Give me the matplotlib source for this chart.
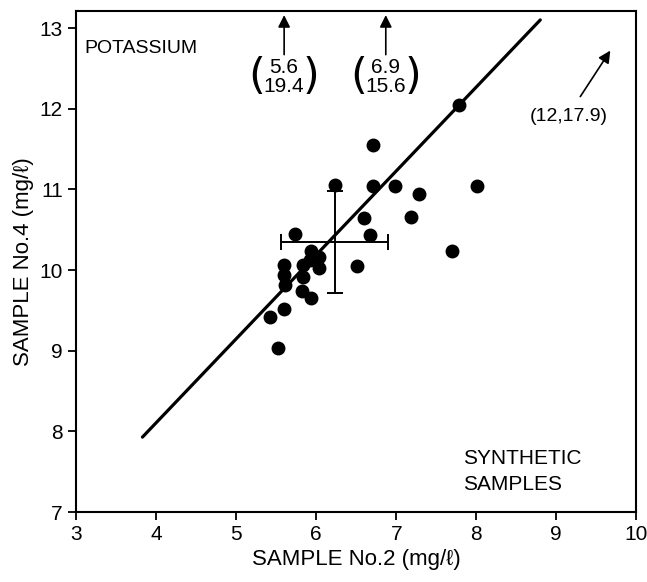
import matplotlib
matplotlib.use("Agg")
import matplotlib.pyplot as plt

plt.rcParams['font.family'] = ['Liberation Sans', 'DejaVu Sans']

# Data (sample no.2 vs sample no.4, potassium)
sample2 = [7.79, 6.71, 6.23, 6.71, 6.98, 7.29, 8.01, 6.60, 7.18, 5.73,
           6.67, 7.70, 6.51, 5.60, 5.60, 5.61, 5.83, 5.83, 5.82, 5.94,
           5.60, 5.42, 5.52, 5.94, 6.03, 5.92, 6.03]
sample4 = [12.05, 11.55, 11.06, 11.04, 11.04, 10.94, 11.04, 10.65, 10.66, 10.45,
           10.44, 10.24, 10.05, 10.06, 9.94, 9.82, 10.06, 9.91, 9.74, 9.65,
           9.52, 9.42, 9.03, 10.24, 10.16, 10.12, 10.02]

# mean and spread
mean_x, mean_y = 6.23, 10.35
err_x, err_y = 0.67, 0.63

# fitted line end points
line_x = [3.83, 8.80]
line_y = [7.93, 13.10]

# off-scale points
off_labels = ["5.6\n19.4", "6.9\n15.6"]
off_x = [5.6, 6.87]

fig = plt.figure(figsize=(6.47, 5.82), dpi=100)
ax = fig.add_axes([0.1175, 0.12, 0.866, 0.861])

ax.plot(line_x, line_y, color='k', lw=2.3, solid_capstyle='round', zorder=2)
ax.errorbar(mean_x, mean_y, xerr=err_x, yerr=err_y, fmt='none', ecolor='k',
            elinewidth=1.4, capsize=6, capthick=1.4, zorder=3)
ax.plot(sample2, sample4, 'o', color='k', ms=9, zorder=4)

# arrows for points off the top of the plot
for lab, xv in zip(off_labels, off_x):
    ax.annotate("", xy=(xv, 13.16), xytext=(xv, 12.67),
                arrowprops=dict(arrowstyle='-|>', color='k', lw=1.2,
                                mutation_scale=18, shrinkA=0, shrinkB=0))
    ax.text(xv, 12.39, lab, ha='center', va='center', fontsize=15,
            linespacing=1.0)
    ax.text(xv - 0.34, 12.39, "(", ha='center', va='center', fontsize=31,
            family='DejaVu Sans')
    ax.text(xv + 0.34, 12.39, ")", ha='center', va='center', fontsize=31,
            family='DejaVu Sans')

ax.annotate("", xy=(9.675, 12.72), xytext=(9.3, 12.15),
            arrowprops=dict(arrowstyle='-|>', color='k', lw=1.2,
                            mutation_scale=18, shrinkA=0, shrinkB=0))
ax.text(9.16, 11.9, "(12,17.9)", ha='center', va='center', fontsize=14)

ax.text(3.1, 12.75, "POTASSIUM", ha='left', va='center', fontsize=14)
ax.text(7.84, 7.5, "SYNTHETIC\nSAMPLES", ha='left', va='center',
        fontsize=15, linespacing=1.45)

ax.set_xlim(3, 10)
ax.set_ylim(7, 13.21)
ax.set_xticks(range(3, 11))
ax.set_yticks(range(7, 14))
ax.tick_params(direction='out', length=6, width=1.3, labelsize=15,
               top=False, right=False)
for s in ax.spines.values():
    s.set_linewidth(1.5)

ax.set_xlabel("SAMPLE No.2 (mg/ℓ)", fontsize=16, labelpad=3)
ax.set_ylabel("SAMPLE No.4 (mg/ℓ)", fontsize=16, labelpad=4)

fig.savefig("out.png", dpi=100)
